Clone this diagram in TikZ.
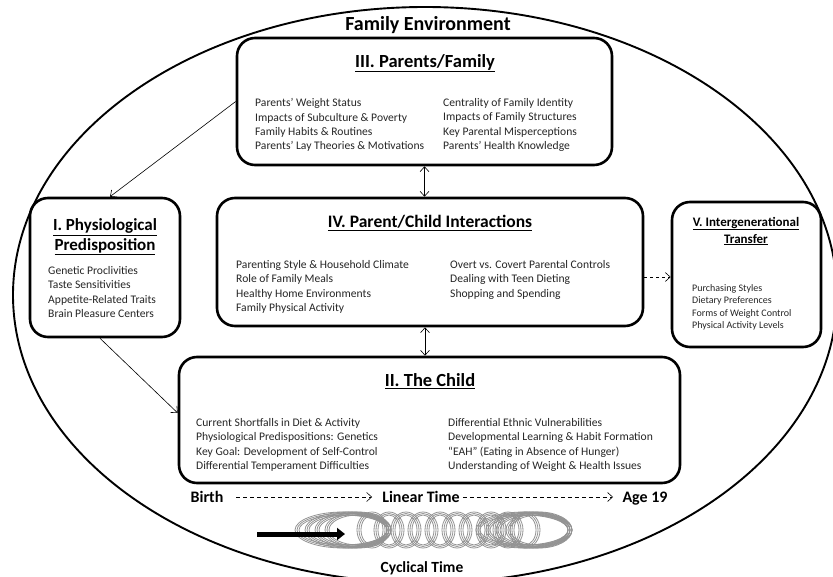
\documentclass[tikz,border=0pt]{standalone}
\usepackage{fontspec}
\setmainfont{Carlito}
\usetikzlibrary{arrows.meta}
\begin{document}
\begin{tikzpicture}[x=1pt,y=-1pt,
  box/.style={draw, line width=2.6pt, rounded corners=18pt, inner sep=0pt},
  ttl/.style={font=\bfseries\fontsize{18.5}{20}\selectfont, align=center, inner sep=0pt},
  sttl/.style={font=\bfseries\fontsize{13}{17}\selectfont, align=center, inner sep=0pt},
  items/.style={font=\fontsize{11.6}{14.2}\selectfont, align=left, anchor=north west, inner sep=0pt, text=black!85},
  sitems/.style={font=\fontsize{10}{12.5}\selectfont, align=left, anchor=north west, inner sep=0pt, text=black!85},
  conn/.style={-{Straight Barb[length=5pt,width=9pt]}, line width=0.6pt},
  dconn/.style={{Straight Barb[length=5pt,width=9pt]}-{Straight Barb[length=5pt,width=9pt]}, line width=0.6pt},
  timetxt/.style={font=\bfseries\fontsize{16}{18}\selectfont, inner sep=0pt, anchor=base},
  ring/.style={draw=gray!85, line width=0.8pt},
]
\useasboundingbox (0,0) rectangle (833,577);
\clip (0,0) rectangle (833,577);
\fill[white] (0,0) rectangle (833,577);

% outer family environment oval
\draw[line width=1.9pt] (425,295) ellipse (412pt and 288pt);

\node[font=\bfseries\fontsize{20}{22}\selectfont, inner sep=0pt] (fe) at (428,25) {Family Environment};

% boxes
\node[box, minimum width=375pt, minimum height=127pt] (p3) at (424.5,101.5) {};
\node[box, minimum width=150pt, minimum height=139pt] (p1) at (105,267.5) {};
\node[box, minimum width=426pt, minimum height=128pt] (p4) at (430,262) {};
\node[box, minimum width=149pt, minimum height=145pt] (p5) at (746.5,274.5) {};
\node[box, minimum width=501pt, minimum height=126pt] (p2) at (429.5,420) {};

% titles
\node[ttl] (t3) at (425,63) {\underline{III. Parents/Family}};
\node[ttl, font=\bfseries\fontsize{17}{20}\selectfont] (t1) at (105,237) {\underline{I. Physiological}\\\underline{Predisposition}};
\node[ttl, font=\bfseries\fontsize{17.5}{20}\selectfont] (t4) at (430,223) {\underline{IV. Parent/Child Interactions}};
\node[sttl] (t5) at (746,231) {\underline{V. Intergenerational}\\\underline{Transfer}};
\node[ttl] (t2) at (430,381) {\underline{II. The Child}};

% items
\node[items] (i3a) at (255,98.5) {Parents’ Weight Status\\Impacts of Subculture \& Poverty\\Family Habits \& Routines\\Parents’ Lay Theories \& Motivations};
\node[items] (i3b) at (443,98.5) {Centrality of Family Identity\\Impacts of Family Structures\\Key Parental Misperceptions\\Parents’ Health Knowledge};
\node[items] (i1) at (48,266.5) {Genetic Proclivities\\Taste Sensitivities\\Appetite-Related Traits\\Brain Pleasure Centers};
\node[items] (i4a) at (236,260.5) {Parenting Style \& Household Climate\\Role of Family Meals\\Healthy Home Environments\\Family Physical Activity};
\node[items] (i4b) at (450,260.5) {Overt vs. Covert Parental Controls\\Dealing with Teen Dieting\\Shopping and Spending};
\node[sitems] (i5) at (692,284) {Purchasing Styles\\Dietary Preferences\\Forms of Weight Control\\Physical Activity Levels};
\node[items] (i2a) at (196,418.5) {Current Shortfalls in Diet \& Activity\\Physiological Predispositions: Genetics\\Key Goal: Development of Self-Control\\Differential Temperament Difficulties};
\node[items] (i2b) at (448,418.5) {Differential Ethnic Vulnerabilities\\Developmental Learning \& Habit Formation\\“EAH” (Eating in Absence of Hunger)\\Understanding of Weight \& Health Issues};

% connectors
\draw[dconn] (p3.south) -- (p3.south |- p4.north);
\draw[dconn] ([xshift=-5pt]p4.south) -- ([xshift=-5pt]p4.south |- p2.north);
\draw[conn] (p3.west) -- ([xshift=5pt]p1.north);
\draw[conn] ([xshift=-5pt]p1.south) -- ([yshift=7pt]p2.west);
\draw[conn, dashed] ([yshift=-15pt]p4.east) -- ([yshift=-15pt]p4.east -| p5.west);

% linear time
\node[timetxt] (birth) at (207,502) {Birth};
\node[timetxt] (lin) at (421,502) {Linear Time};
\node[timetxt] (age) at (645,502) {Age 19};
\coordinate (d1s) at (236,497);
\coordinate (d2e) at (613,497);
\draw[conn, dashed, dash pattern=on 4pt off 3pt] (d1s) -- ([xshift=-10pt]lin.west |- d1s);
\draw[conn, dashed, dash pattern=on 4pt off 3pt] ([xshift=3pt]lin.east |- d2e) -- (d2e);

% cyclical time coil
\foreach \cx/\rx in {343/48,348/43,353/38,358/33}{
  \draw[ring] (\cx,530) ellipse ({\rx pt} and 18pt);
  \draw[ring] (\cx,530) ellipse ({\rx pt-2pt} and 16.5pt);
  \draw[ring] (\cx,530) ellipse ({\rx pt-4pt} and 15pt);
}
\foreach \i in {0,...,9}{
  \draw[ring] (372+17*\i,530) ellipse (15pt and 18pt);
  \draw[ring] (372+17*\i,530) ellipse (13pt and 16.5pt);
  \draw[ring] (372+17*\i,530) ellipse (11pt and 15pt);
}
\foreach \cx/\rx in {524/48,529/43,534/38,539/33}{
  \draw[ring] (\cx,530) ellipse ({\rx pt} and 18pt);
  \draw[ring] (\cx,530) ellipse ({\rx pt-2pt} and 16.5pt);
  \draw[ring] (\cx,530) ellipse ({\rx pt-4pt} and 15pt);
}
\coordinate (ast) at (257,534);
\coordinate (aen) at (345,534);
\draw[line width=5pt, -{Triangle[length=8pt,width=12pt]}] (ast) -- (aen);
\node[timetxt, font=\bfseries\fontsize{15.5}{17}\selectfont] (cyc) at (422,572) {Cyclical Time};
\end{tikzpicture}
\end{document}
